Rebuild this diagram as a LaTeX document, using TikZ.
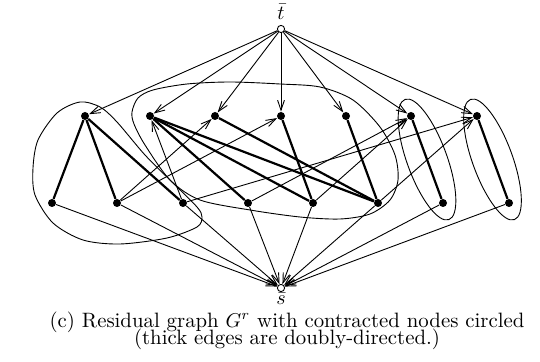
\documentclass[tikz,border=0pt]{standalone}
\usetikzlibrary{arrows.meta}
\newcommand\captionfont{\fontsize{10.4}{8.6}\selectfont\lineskiplimit=-100pt\lineskip=0pt\relax}
\begin{document}
\begin{tikzpicture}[x=0.5pt,y=-0.5pt,
  dot/.style={circle,fill=black,inner sep=0pt,minimum size=4pt},
  term/.style={circle,draw,fill=white,inner sep=0pt,minimum size=3.6pt,line width=0.45pt},
  thinedge/.style={line width=0.45pt,-{Straight Barb[length=5pt,width=3.4pt]}},
  thickedge/.style={line width=1.1pt},
  contour/.style={line width=0.45pt},
  lbl/.style={inner sep=0pt,font=\fontsize{10.4}{12}\selectfont}]
\useasboundingbox (0,0) rectangle (540,362);

% terminals
\node[term] (t) at (281,29) {};
\node[lbl] (tl) at (281,12) {$\bar t$};
\node[term] (s) at (281,288) {};
\node[lbl] (sl) at (281,299) {$\bar s$};

% top row
\foreach \i/\x in {1/85,2/150,3/215,4/281,5/346,6/411,7/477}
  \node[dot] (a\i) at (\x,116) {};
% bottom row
\foreach \i/\x in {1/52,2/117,3/183,4/248,5/313,6/378,7/443,8/509}
  \node[dot] (b\i) at (\x,203) {};

% contracted-node contours
\draw[contour] plot[smooth cycle] coordinates {(80,102) (100,107) (117,122) (145,155) (173,183) (197,207) (202,217) (197,227) (167,238) (120,244) (83,240) (53,223) (35,195) (33,168) (38,140) (57,113)};
\draw[contour] plot[smooth cycle] coordinates {(132,112) (138,98) (153,90) (187,84) (230,82) (280,84) (320,87) (353,100) (380,127) (395,155) (398,180) (390,200) (370,214) (340,219) (300,217) (250,210) (200,200) (170,180) (145,145) (134,124)};
\draw[contour,shift={(427,159.5)},rotate=-70] (0,0) ellipse [x radius=32pt,y radius=10pt];
\draw[contour,shift={(492.5,159.5)},rotate=-70] (0,0) ellipse [x radius=32pt,y radius=10pt];

% source/sink edges
\foreach \i in {1,...,7} \draw[thinedge] (t) -- (a\i);
\foreach \i in {1,...,8} \draw[thinedge] (b\i) -- (s);

% thin (one-way) edges
\draw[thinedge] (b3) -- (a2);
\draw[thinedge] (b2) -- (a3);
\draw[thinedge] (b2) -- (a4);
\draw[thinedge] (b3) -- (a7);
\draw[thinedge] (b4) -- (a6);
\draw[thinedge] (b5) -- (a6);
\draw[thinedge] (b6) -- (a7);

% thick (doubly-directed) edges
\draw[thickedge] (a1) -- (b1);
\draw[thickedge] (a1) -- (b2);
\draw[thickedge] (a1) -- (b3);
\draw[thickedge] (a2) -- (b4);
\draw[thickedge] (a2) -- (b5);
\draw[thickedge] (a2) -- (b6);
\draw[thickedge] (a3) -- (b6);
\draw[thickedge] (a4) -- (b5);
\draw[thickedge] (a5) -- (b6);
\draw[thickedge] (a6) -- (b7);
\draw[thickedge] (a7) -- (b8);

% caption
\node[inner sep=0pt,align=center,font=\captionfont] (cap) at (287,330.5)
  {(c) Residual graph $G^r$ with contracted nodes circled\\(thick edges are doubly-directed.)};
\end{tikzpicture}
\end{document}
